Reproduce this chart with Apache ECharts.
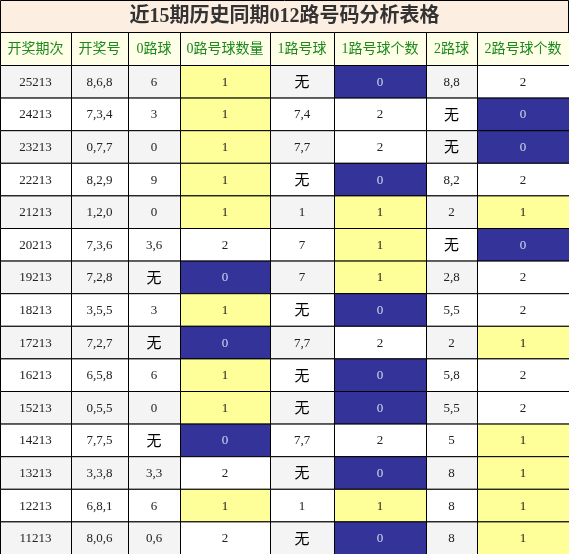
<!DOCTYPE html>
<html><head><meta charset="utf-8">
<script src="https://cdn.jsdelivr.net/npm/echarts@6/dist/echarts.min.js"></script>
<style>html,body{margin:0;padding:0;background:#fff}#c{width:569px;height:554px}</style>
</head><body><div id="c"></div>
<script>
const title = '近15期历史同期012路号码分析表格';
const headers = ['开奖期次','开奖号','0路球','0路号球数量','1路号球','1路号球个数','2路球','2路号球个数'];
const periods = ['25213','24213','23213','22213','21213','20213','19213','18213','17213','16213','15213','14213','13213','12213','11213'];
const draws = ['8,6,8','7,3,4','0,7,7','8,2,9','1,2,0','7,3,6','7,2,8','3,5,5','7,2,7','6,5,8','0,5,5','7,7,5','3,3,8','6,8,1','8,0,6'];
const road0 = ['6','3','0','9','0','3,6','无','3','无','6','0','无','3,3','6','0,6'];
const road0Count = [1,1,1,1,1,2,0,1,0,1,1,0,2,1,2];
const road1 = ['无','7,4','7,7','无','1','7','7','无','7,7','无','无','7,7','无','1','无'];
const road1Count = [0,2,2,0,1,1,1,0,2,0,0,2,0,1,0];
const road2 = ['8,8','无','无','8,2','2','无','2,8','5,5','2','5,8','5,5','5','8','8','8'];
const road2Count = [2,0,0,2,1,0,2,2,1,2,2,1,1,1,1];

const colEdges = [0,71,128,180,270,334,426,477,569];
const titleH = 32, headH = 33, rowH = (554 - titleH - headH) / periods.length;
const columns = [periods, draws, road0, road0Count, road1, road1Count, road2, road2Count];
const countCols = [3,5,7];

const cells = [];
periods.forEach((p, r) => columns.forEach((col, c) => cells.push([c, r, String(col[r])])));

const chart = echarts.init(document.getElementById('c'));
function rectPx(api, x0, y0, x1, y1) {
  const a = api.coord([x0, y0]), b = api.coord([x1, y1]);
  return {x: a[0], y: a[1], width: b[0] - a[0], height: b[1] - a[1]};
}
const serif = '"Liberation Serif","DejaVu Serif","Noto Sans CJK SC",serif';
chart.setOption({
  animation: false,
  grid: {left: 0, right: 0, top: 0, bottom: 0},
  xAxis: {type: 'value', min: 0, max: 569, show: false},
  yAxis: {type: 'value', min: 0, max: 554, inverse: true, show: false},
  series: [
    {
      type: 'custom', coordinateSystem: 'cartesian2d', silent: true,
      data: [[0]],
      renderItem: (params, api) => {
        const children = [];
        const t = rectPx(api, 0, 0, 569, titleH);
        children.push({type: 'rect', shape: {x: t.x + 0.5, y: t.y + 0.5, width: t.width - 1, height: t.height}, style: {fill: '#fdeee2', stroke: '#000', lineWidth: 1}});
        children.push({type: 'text', style: {text: title, x: t.x + t.width / 2, y: t.y + t.height / 2 + 1, align: 'center', verticalAlign: 'middle', font: 'bold 20px ' + serif, fill: '#333'}});
        headers.forEach((h, c) => {
          const r = rectPx(api, colEdges[c], titleH, colEdges[c + 1], titleH + headH);
          children.push({type: 'rect', shape: {x: r.x + 0.5, y: r.y + 0.5, width: r.width, height: r.height}, style: {fill: '#ffffe8', stroke: '#000', lineWidth: 1}});
          children.push({type: 'text', style: {text: h, x: r.x + r.width / 2, y: r.y + r.height / 2 + 1, align: 'center', verticalAlign: 'middle', font: '14px ' + serif, fill: '#1b8a1b'}});
        });
        return {type: 'group', children};
      }
    },
    {
      type: 'custom', coordinateSystem: 'cartesian2d', silent: true,
      data: cells,
      renderItem: (params, api) => {
        const c = api.value(0), r = api.value(1), txt = cells[params.dataIndex][2];
        const y0 = titleH + headH + r * rowH;
        const rc = rectPx(api, colEdges[c], y0, colEdges[c + 1], y0 + rowH);
        let fill = r % 2 === 0 ? '#f4f4f4' : '#ffffff', color = '#222';
        if (countCols.includes(c)) {
          if (txt === '0') { fill = '#333399'; color = '#d8d8f0'; }
          else if (txt === '1') fill = '#ffff99';
          else fill = '#ffffff';
        }
        const isWu = txt === '无';
        return {type: 'group', children: [
          {type: 'rect', shape: {x: rc.x + 0.5, y: rc.y + 0.5, width: rc.width, height: rc.height}, style: {fill, stroke: '#000', lineWidth: 1}},
          {type: 'text', style: {text: txt, x: rc.x + rc.width / 2, y: rc.y + rc.height / 2 + (isWu ? 2 : 1), align: 'center', verticalAlign: 'middle', font: (isWu ? '15px ' : '13px ') + serif, fill: isWu ? '#000' : color}}
        ]};
      }
    }
  ]
});
</script></body></html>
